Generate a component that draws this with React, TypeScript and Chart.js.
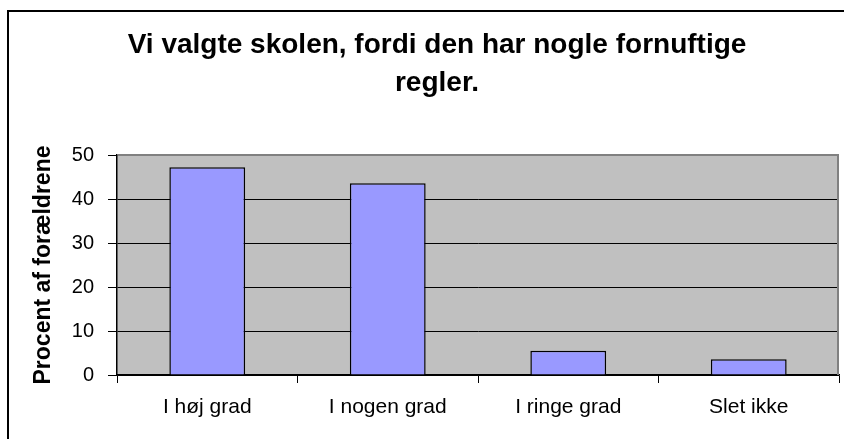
import React, { useEffect, useRef } from "react";
import { Chart, registerables } from "chart.js";

Chart.register(...registerables);

const categories = ["I høj grad", "I nogen grad", "I ringe grad", "Slet ikke"];
const values = [47.2, 43.6, 5.5, 3.6];
const yMin = 0;
const yMax = 50;
const yStep = 10;
const titleLines = ["Vi valgte skolen, fordi den har nogle fornuftige", "regler."];
const yAxisTitle = "Procent af forældrene";

const FONT = "'Liberation Sans', Arial, Helvetica, sans-serif";

const framePlugin = {
  id: "frame",
  beforeDraw(chart: any) {
    const { ctx, chartArea: a, width, height } = chart;
    ctx.save();
    ctx.fillStyle = "#ffffff";
    ctx.fillRect(0, 0, width, height);
    ctx.strokeStyle = "#000000";
    ctx.lineWidth = 2;
    ctx.beginPath();
    ctx.moveTo(8, height + 4);
    ctx.lineTo(8, 11);
    ctx.lineTo(width + 4, 11);
    ctx.stroke();
    ctx.fillStyle = "#C0C0C0";
    ctx.fillRect(a.left, a.top, a.right - a.left, a.bottom - a.top);
    ctx.restore();
  },
  afterDraw(chart: any) {
    const { ctx, chartArea: a } = chart;
    ctx.save();
    ctx.strokeStyle = "#808080";
    ctx.lineWidth = 2;
    ctx.beginPath();
    ctx.moveTo(a.left + 1, a.top);
    ctx.lineTo(a.right - 1, a.top);
    ctx.lineTo(a.right - 1, a.bottom);
    ctx.stroke();
    ctx.restore();
  },
};

export default function App() {
  const ref = useRef<HTMLCanvasElement | null>(null);

  useEffect(() => {
    if (!ref.current) return;
    const chart = new Chart(ref.current, {
      type: "bar",
      data: {
        labels: categories,
        datasets: [
          {
            data: values,
            backgroundColor: "#9999FF",
            borderColor: "#000000",
            borderWidth: 1.5,
            categoryPercentage: 1,
            barPercentage: 0.42,
          },
        ],
      },
      options: {
        responsive: false,
        animation: false,
        events: [],
        layout: { padding: { left: 35, right: 5, top: 0, bottom: 0 } },
        plugins: {
          legend: { display: false },
          tooltip: { enabled: false },
          title: {
            display: true,
            text: titleLines,
            color: "#000000",
            font: { family: FONT, size: 28, weight: "bold", lineHeight: 38 / 28 },
            padding: { top: 26, bottom: 53 },
          },
        },
        scales: {
          x: {
            offset: true,
            grid: {
              display: true,
              offset: true,
              drawOnChartArea: false,
              drawTicks: true,
              tickLength: 8,
              tickColor: "#000000",
              color: "#000000",
            },
            border: { display: true, color: "#000000", width: 1.5 },
            ticks: {
              color: "#000000",
              font: { family: FONT, size: 21 },
              padding: 12,
              maxRotation: 0,
            },
            afterFit: (scale: any) => {
              scale.height = 64;
            },
          },
          y: {
            min: yMin,
            max: yMax,
            ticks: {
              stepSize: yStep,
              color: "#000000",
              font: { family: FONT, size: 20 },
              padding: 14,
            },
            grid: {
              color: (c: any) => (c.tick && c.tick.value === yMax ? "#808080" : "#000000"),
              lineWidth: 1,
              drawTicks: true,
              tickLength: 9,
              tickColor: "#000000",
            },
            border: { display: true, color: "#000000", width: 1.5 },
            title: {
              display: true,
              text: yAxisTitle,
              color: "#000000",
              font: { family: FONT, size: 23, weight: "bold", lineHeight: 1 },
              padding: { top: -3, bottom: 0 },
            },
            afterFit: (scale: any) => {
              scale.width = 82;
            },
          },
        },
      },
      plugins: [framePlugin],
    } as any);
    return () => chart.destroy();
  }, []);

  return (
    <div style={{ position: "fixed", left: 0, top: 0, width: 844, height: 439 }}>
      <canvas ref={ref} width={844} height={439} style={{ display: "block", width: 844, height: 439 }} />
    </div>
  );
}
